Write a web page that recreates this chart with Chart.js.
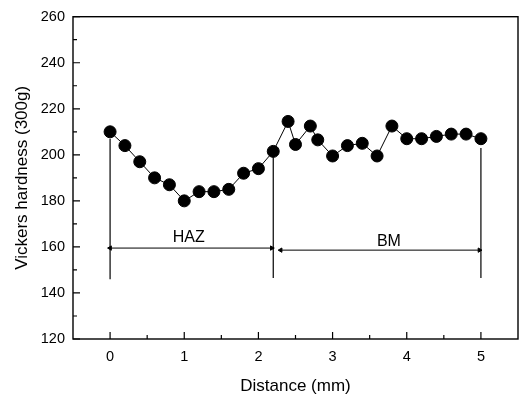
<!DOCTYPE html>
<html>
<head>
<meta charset="utf-8">
<script src="https://cdn.jsdelivr.net/npm/chart.js@4"></script>
<style>
html,body{margin:0;padding:0;background:#fff;}
#wrap{width:525px;height:398px;}
</style>
</head>
<body>
<div id="wrap"><canvas id="hv"></canvas></div>
<script>
// microhardness traverse across the weld zone
const distance = [0, 0.2, 0.4, 0.6, 0.8, 1.0, 1.2, 1.4, 1.6, 1.8, 2.0, 2.2, 2.4, 2.5, 2.7, 2.8, 3.0, 3.2, 3.4, 3.6, 3.8, 4.0, 4.2, 4.4, 4.6, 4.8, 5.0];
const hardness = [210, 204, 197, 190, 187, 180, 184, 184, 185, 192, 194, 201.5, 214.5, 204.5, 212.5, 206.5, 199.5, 204, 205, 199.5, 212.5, 207, 207, 208, 209, 209, 207];

// zone boundaries (vertical markers)
const zoneX = [0, 2.2, 5];
const zoneTop = [207, 199, 203];
const zoneBottom = [146, 146.5, 146.5];

// span arrows + their labels
const zoneNames = ['HAZ', 'BM'];
const spanFrom = [0, 2.3];
const spanTo = [2.18, 4.98];
const spanY = [159.5, 158.6];
const nameX = [1.06, 3.76];
const nameY = [164, 162.5];

// axis ticks
const xTicks = [0, 1, 2, 3, 4, 5];
const xMinor = [0.5, 1.5, 2.5, 3.5, 4.5];
const yTicks = [120, 140, 160, 180, 200, 220, 240, 260];
const yMinor = [130, 150, 170, 190, 210, 230, 250];

const FONT = "'Liberation Sans', Arial, sans-serif";

let datasets = [{
  data: distance.map((d, i) => ({x: d, y: hardness[i]})),
  showLine: true,
  borderColor: '#000',
  borderWidth: 1,
  backgroundColor: '#000',
  pointBackgroundColor: '#000',
  pointBorderColor: '#000',
  pointRadius: 6
}];

zoneX.forEach((zx, i) => {
  datasets.push({
    data: [{x: zx, y: zoneBottom[i]}, {x: zx, y: zoneTop[i]}],
    showLine: true,
    borderColor: '#000',
    borderWidth: 1.2,
    pointRadius: 0
  });
});

zoneNames.forEach((n, i) => {
  datasets.push({
    data: [{x: spanFrom[i], y: spanY[i]}, {x: spanTo[i], y: spanY[i]}],
    showLine: true,
    borderColor: '#000',
    borderWidth: 1,
    pointStyle: 'triangle',
    pointRadius: 2.5,
    pointRotation: [-90, 90],
    pointBackgroundColor: '#000',
    pointBorderColor: '#000',
    pointBorderWidth: 1
  });
});

// box frame and inward tick marks
const frame = {
  id: 'frame',
  afterDraw(chart) {
    const {ctx, chartArea: a, scales: {x, y}} = chart;
    ctx.save();
    ctx.strokeStyle = '#000';
    ctx.lineWidth = 1.4;
    ctx.strokeRect(a.left, a.top, a.right - a.left, a.bottom - a.top);
    ctx.lineWidth = 1.2;
    ctx.beginPath();
    xTicks.forEach(v => { const p = x.getPixelForValue(v); ctx.moveTo(p, a.bottom); ctx.lineTo(p, a.bottom - 7); });
    xMinor.forEach(v => { const p = x.getPixelForValue(v); ctx.moveTo(p, a.bottom); ctx.lineTo(p, a.bottom - 4); });
    yTicks.forEach(v => { const p = y.getPixelForValue(v); ctx.moveTo(a.left, p); ctx.lineTo(a.left + 7, p); });
    yMinor.forEach(v => { const p = y.getPixelForValue(v); ctx.moveTo(a.left, p); ctx.lineTo(a.left + 4, p); });
    ctx.stroke();

    ctx.fillStyle = '#000';
    ctx.font = '16px ' + FONT;
    ctx.textAlign = 'center';
    ctx.textBaseline = 'middle';
    zoneNames.forEach((n, i) => {
      ctx.fillText(n, x.getPixelForValue(nameX[i]), y.getPixelForValue(nameY[i]));
    });
    ctx.restore();
  }
};

new Chart(document.getElementById('hv'), {
  type: 'scatter',
  data: {datasets: datasets},
  options: {
    responsive: true,
    maintainAspectRatio: false,
    animation: false,
    events: [],
    layout: {padding: {top: 12, right: 6, left: 0, bottom: 0}},
    plugins: {legend: {display: false}, tooltip: {enabled: false}},
    scales: {
      x: {
        type: 'linear',
        min: -0.5,
        max: 5.5,
        afterBuildTicks: s => { s.ticks = xTicks.map(v => ({value: v})); },
        afterFit: s => { s.height = 59; },
        grid: {display: false, drawTicks: false},
        border: {display: false},
        ticks: {color: '#000', font: {family: FONT, size: 14.5}, padding: 9},
        title: {display: true, text: 'Distance (mm)', color: '#000', font: {family: FONT, size: 17}, padding: {top: 0, bottom: 1}}
      },
      y: {
        min: 120,
        max: 260,
        afterBuildTicks: s => { s.ticks = yTicks.map(v => ({value: v})); },
        afterFit: s => { s.width = 73; },
        grid: {display: false, drawTicks: false},
        border: {display: false},
        ticks: {color: '#000', font: {family: FONT, size: 14.5}, padding: 8},
        title: {display: true, text: 'Vickers hardness (300g)', color: '#000', font: {family: FONT, size: 17}, padding: {top: 12, bottom: 0}}
      }
    }
  },
  plugins: [frame]
});
</script>
</body>
</html>
